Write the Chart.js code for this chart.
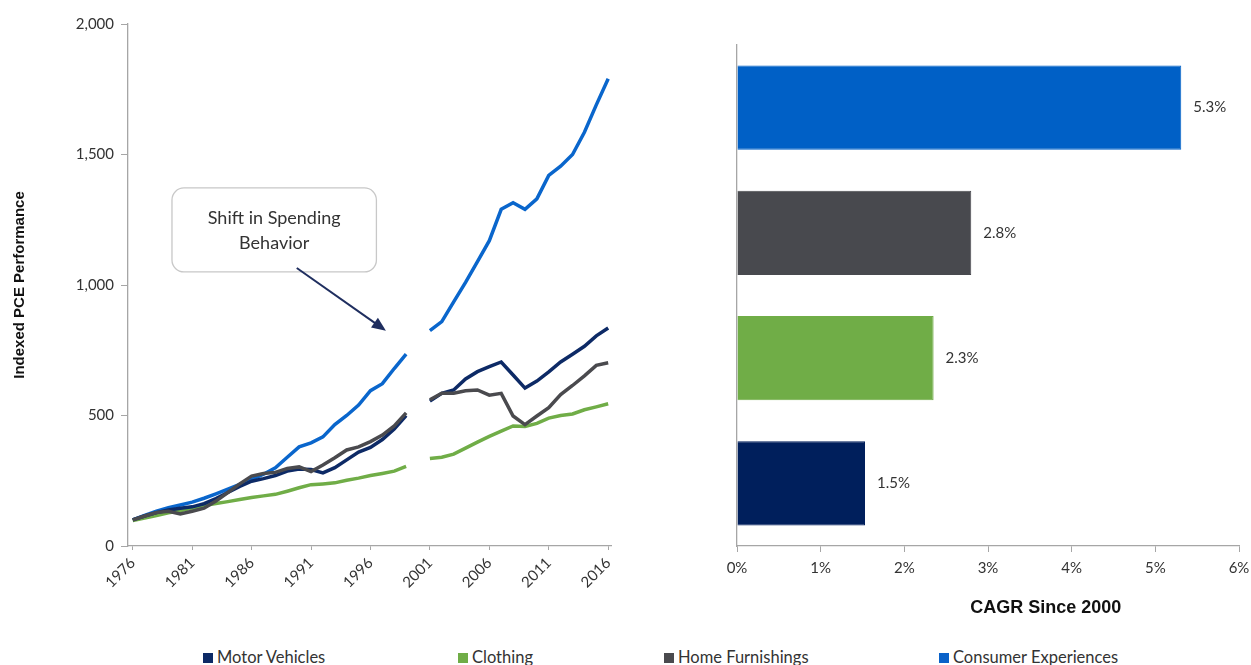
<!DOCTYPE html>
<html>
<head>
<meta charset="utf-8">
<script src="https://cdn.jsdelivr.net/npm/chart.js"></script>
<style>
  html, body { margin: 0; padding: 0; background: #fff; }
  body { width: 1251px; height: 665px; position: relative; overflow: hidden; font-family: Lato, "Noto Sans", sans-serif; }
  #lineWrap { position: absolute; left: 0; top: 0; width: 625px; height: 620px; }
  #barWrap { position: absolute; left: 640px; top: 0; width: 611px; height: 620px; }
  .leg { position: absolute; top: 648px; font-size: 16.5px; line-height: 18px; color: #333; white-space: nowrap; }
  .leg i { display: inline-block; width: 10px; height: 10px; margin-right: 4px; vertical-align: 0px; }
</style>
</head>
<body>
<div id="lineWrap"><canvas id="lineChart"></canvas></div>
<div id="barWrap"><canvas id="barChart"></canvas></div>
<div class="leg" style="left:203px"><i style="background:#0d2a66"></i>Motor Vehicles</div>
<div class="leg" style="left:458px"><i style="background:#70ad47"></i>Clothing</div>
<div class="leg" style="left:664px"><i style="background:#4a4a4e"></i>Home Furnishings</div>
<div class="leg" style="left:939px"><i style="background:#0a62c9"></i>Consumer Experiences</div>

<script>
// datos - linea
const years = [1976, 1977, 1978, 1979, 1980, 1981, 1982, 1983, 1984, 1985,
  1986, 1987, 1988, 1989, 1990, 1991, 1992, 1993, 1994, 1995,
  1996, 1997, 1998, 1999, 2000, 2001, 2002, 2003, 2004, 2005,
  2006, 2007, 2008, 2009, 2010, 2011, 2012, 2013, 2014, 2015, 2016];
const xTickYears = [1976, 1981, 1986, 1991, 1996, 2001, 2006, 2011, 2016];

const motorVehicles = [100, 115, 128, 138, 145, 150, 162, 182, 205, 228,
  248, 258, 270, 287, 295, 293, 280, 300, 330, 360,
  378, 408, 448, 500, null, 555, 585, 598, 640, 668,
  687, 705, 655, 605, 632, 667, 705, 735, 765, 805, 835];
const clothing = [98, 107, 117, 127, 135, 145, 155, 163, 170, 178,
  186, 192, 198, 210, 223, 235, 238, 242, 252, 260,
  270, 278, 287, 305, null, 335, 340, 352, 375, 398,
  420, 440, 460, 458, 470, 490, 500, 506, 522, 533, 545];
const homeFurnishings = [100, 115, 128, 133, 123, 133, 145, 172, 205, 238,
  268, 278, 282, 297, 303, 285, 310, 338, 368, 380,
  400, 425, 460, 510, null, 560, 585, 585, 595, 598,
  578, 585, 498, 465, 498, 530, 580, 615, 652, 692, 702];
const consumerExperiences = [100, 117, 133, 147, 157, 168, 183, 200, 218, 236,
  255, 275, 300, 340, 380, 395, 418, 465, 500, 540,
  595, 622, 680, 735, null, 825, 860, 935, 1010, 1090,
  1170, 1290, 1315, 1290, 1330, 1420, 1455, 1500, 1585, 1690, 1790];

// datos - barras
const barCategories = ["Consumer Experiences", "Home Furnishings", "Clothing", "Motor Vehicles"];
const cagr = [5.31, 2.80, 2.35, 1.53];
const cagrLabels = ["5.3%", "2.8%", "2.3%", "1.5%"];
const barColors = ["#0060c6", "#48494e", "#70ad47", "#001f5c"];

function toPoints(vals) {
  return years.map((y, i) => ({ x: y, y: vals[i] }));
}

// nota "Shift in Spending Behavior" en coordenadas de datos
const nota = { x1: 1979.3, x2: 1996.5, y1: 1372, y2: 1050, fromX: 1989.8, fromY: 1065, toX: 1997.3, toY: 825 };

const notaPlugin = {
  id: "nota",
  afterDatasetsDraw(chart) {
    const ctx = chart.ctx;
    const xs = chart.scales.x, ys = chart.scales.y;
    const l = xs.getPixelForValue(nota.x1), r = xs.getPixelForValue(nota.x2);
    const t = ys.getPixelForValue(nota.y1), b = ys.getPixelForValue(nota.y2);
    ctx.save();
    ctx.beginPath();
    ctx.roundRect(l, t, r - l, b - t, 12);
    ctx.fillStyle = "#fff";
    ctx.fill();
    ctx.strokeStyle = "#c8c8c8";
    ctx.lineWidth = 1.3;
    ctx.stroke();
    ctx.fillStyle = "#333";
    ctx.font = "18px Lato";
    ctx.textAlign = "center";
    ctx.textBaseline = "middle";
    const cx = (l + r) / 2, cy = (t + b) / 2;
    ctx.fillText("Shift in Spending", cx, cy - 12);
    ctx.fillText("Behavior", cx, cy + 13);
    // flecha
    const x0 = xs.getPixelForValue(nota.fromX), y0 = ys.getPixelForValue(nota.fromY);
    const x1 = xs.getPixelForValue(nota.toX), y1 = ys.getPixelForValue(nota.toY);
    const ang = Math.atan2(y1 - y0, x1 - x0);
    ctx.strokeStyle = "#1f2e5f";
    ctx.fillStyle = "#1f2e5f";
    ctx.lineWidth = 2;
    ctx.beginPath();
    ctx.moveTo(x0, y0);
    ctx.lineTo(x1 - 8 * Math.cos(ang), y1 - 8 * Math.sin(ang));
    ctx.stroke();
    ctx.beginPath();
    ctx.moveTo(x1, y1);
    ctx.lineTo(x1 - 14 * Math.cos(ang) + 6 * Math.sin(ang), y1 - 14 * Math.sin(ang) - 6 * Math.cos(ang));
    ctx.lineTo(x1 - 14 * Math.cos(ang) - 6 * Math.sin(ang), y1 - 14 * Math.sin(ang) + 6 * Math.cos(ang));
    ctx.closePath();
    ctx.fill();
    ctx.restore();
  }
};

const lineDs = (label, vals, color) => ({
  label, data: toPoints(vals), borderColor: color, backgroundColor: color,
  borderWidth: 3.5, pointRadius: 0, tension: 0, spanGaps: false
});

new Chart(document.getElementById("lineChart"), {
  type: "line",
  data: {
    datasets: [
      lineDs("Home Furnishings", homeFurnishings, "#4a4a4e"),
      lineDs("Motor Vehicles", motorVehicles, "#0d2a66"),
      lineDs("Clothing", clothing, "#70ad47"),
      lineDs("Consumer Experiences", consumerExperiences, "#0a66cc")
    ]
  },
  options: {
    responsive: true,
    maintainAspectRatio: false,
    animation: false,
    layout: { padding: { top: 24, right: 12, left: 8, bottom: 0 } },
    plugins: { legend: { display: false }, tooltip: { enabled: false } },
    scales: {
      x: {
        type: "linear",
        min: 1975.6,
        max: 2016.3,
        afterBuildTicks: (s) => { s.ticks = xTickYears.map(v => ({ value: v })); },
        afterFit: (s) => { s.height = 74; },
        grid: { drawOnChartArea: false, tickLength: 4, color: "#a6a6a6" },
        border: { color: "#a6a6a6", width: 1.3 },
        ticks: {
          callback: (v) => String(v),
          minRotation: 45, maxRotation: 45, autoSkip: false,
          color: "#333", font: { family: "Lato", size: 15 }, padding: 4
        }
      },
      y: {
        min: 0, max: 2000,
        afterFit: (s) => { s.width = 120; },
        grid: { drawOnChartArea: false, tickLength: 7, color: "#a6a6a6" },
        border: { color: "#a6a6a6", width: 1.3 },
        ticks: {
          stepSize: 500,
          callback: (v) => v.toLocaleString("en-US"),
          color: "#333", font: { family: "Lato", size: 15 }, padding: 7
        },
        title: {
          display: true, text: "Indexed PCE Performance", color: "#111",
          font: { family: "Liberation Sans", size: 15, weight: "bold" }, padding: 3
        }
      }
    }
  },
  plugins: [notaPlugin]
});

const etiquetasPlugin = {
  id: "etiquetas",
  afterDatasetsDraw(chart) {
    const ctx = chart.ctx;
    const meta = chart.getDatasetMeta(0);
    ctx.save();
    ctx.fillStyle = "#333";
    ctx.font = "15px Lato";
    ctx.textAlign = "left";
    ctx.textBaseline = "middle";
    meta.data.forEach((bar, i) => {
      ctx.fillText(cagrLabels[i], bar.x + 12, bar.y);
    });
    // titulo del eje x, algo desplazado a la derecha como en el original
    const xs = chart.scales.x;
    ctx.fillStyle = "#111";
    ctx.font = "bold 18px 'Liberation Sans'";
    ctx.textAlign = "center";
    ctx.fillText("CAGR Since 2000", xs.getPixelForValue(3.69), xs.top + 62);
    ctx.restore();
  }
};

new Chart(document.getElementById("barChart"), {
  type: "bar",
  data: {
    labels: barCategories,
    datasets: [{
      label: "CAGR Since 2000",
      data: cagr,
      backgroundColor: barColors,
      borderColor: barColors,
      borderWidth: 1,
      categoryPercentage: 0.8,
      barPercentage: 0.84
    }]
  },
  options: {
    indexAxis: "y",
    responsive: true,
    maintainAspectRatio: false,
    animation: false,
    layout: { padding: { top: 45, right: 12, left: 97, bottom: 0 } },
    plugins: { legend: { display: false }, tooltip: { enabled: false } },
    scales: {
      x: {
        min: 0, max: 6,
        afterFit: (s) => { s.height = 74; s.paddingRight = 0; },
        grid: { drawOnChartArea: false, tickLength: 6, color: "#a6a6a6" },
        border: { color: "#a6a6a6", width: 1.3 },
        ticks: {
          stepSize: 1,
          callback: (v) => v + "%",
          color: "#333", font: { family: "Lato", size: 15 }, padding: 7
        }
      },
      y: {
        afterFit: (s) => { s.width = 0; },
        grid: { display: false },
        border: { display: true, color: "#a6a6a6", width: 1.3 },
        ticks: { display: false }
      }
    }
  },
  plugins: [etiquetasPlugin]
});
</script>
</body>
</html>
